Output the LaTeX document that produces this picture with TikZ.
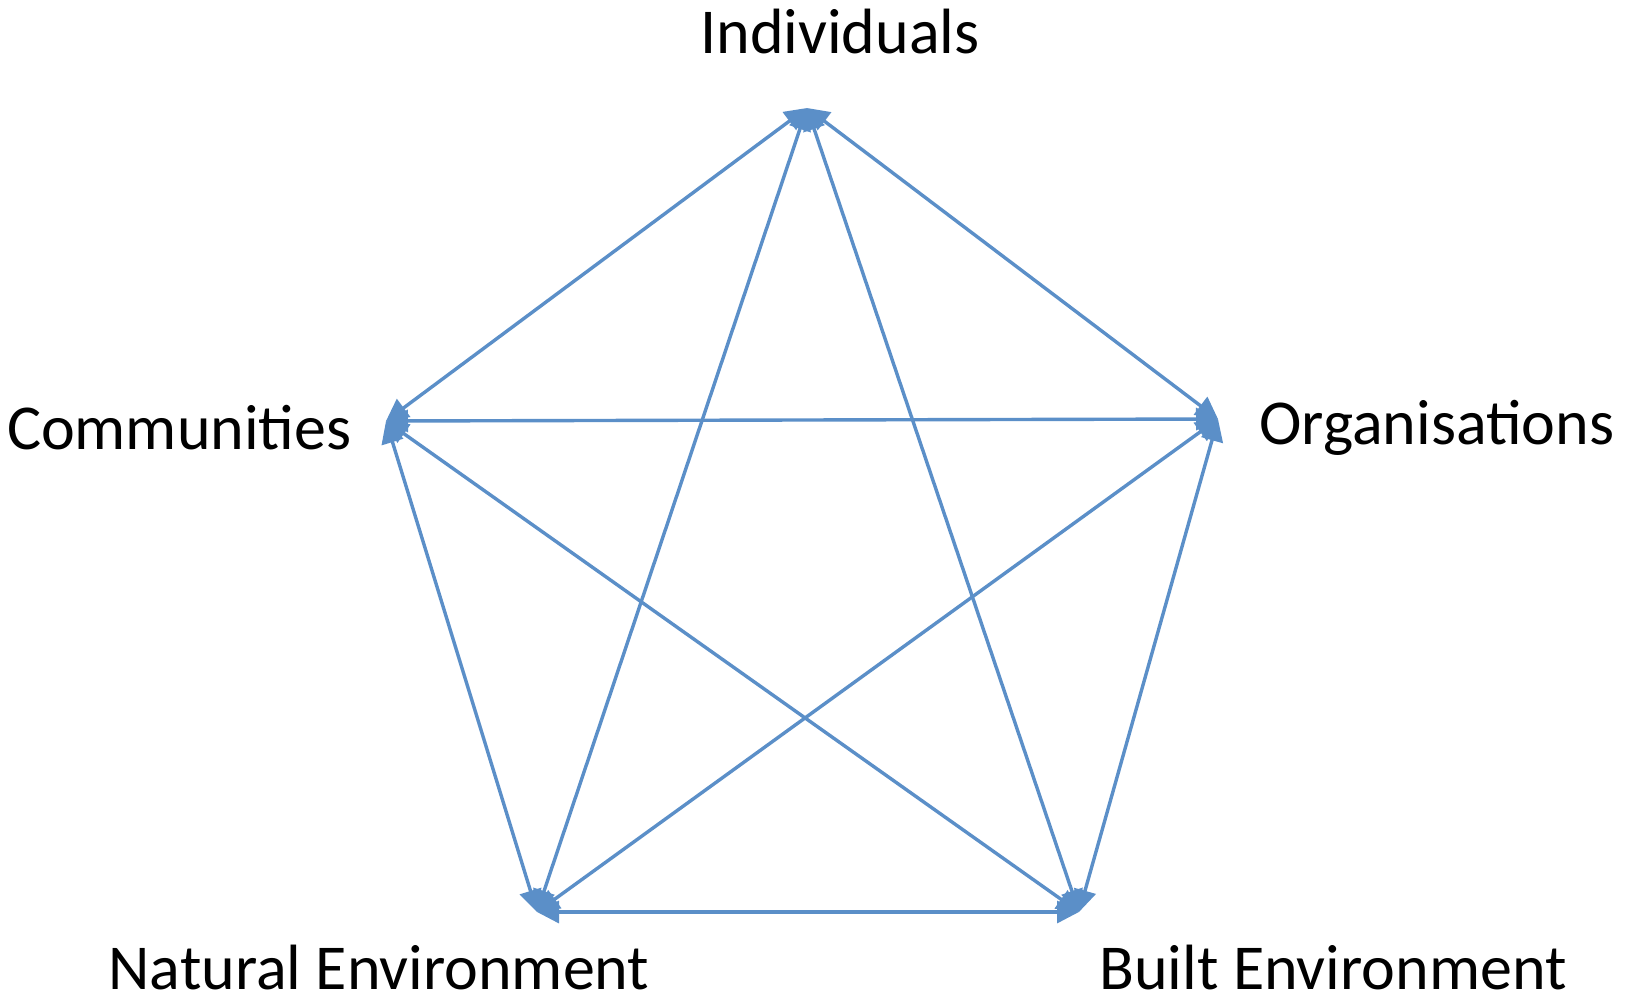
\documentclass[tikz,border=0pt]{standalone}
\usepackage{fontspec}
\setmainfont{Carlito}
\usetikzlibrary{arrows.meta}
\definecolor{edgeblue}{HTML}{5B8FC8}
\tikzset{
  link/.style={draw=edgeblue, line width=1.7pt, {Triangle[length=11pt,width=11pt]}-{Triangle[length=11pt,width=11pt]}},
  lbl/.style={inner sep=0pt, font=\fontsize{32pt}{38pt}\selectfont, text=black}
}
\begin{document}
\begin{tikzpicture}[x=0.5pt,y=-0.5pt]
\useasboundingbox (0,0) rectangle (1634,995);
\coordinate (I) at (807,108);
\coordinate (O) at (1218,419);
\coordinate (B) at (1079,912);
\coordinate (N) at (537,912);
\coordinate (C) at (386,421);
\node[lbl] (lI) at (840,32) {Individuals};
\node[lbl, anchor=west] (lO) at (1259,428) {Organisations};
\node[lbl, anchor=east] (lC) at (352,428) {Communities};
\node[lbl] (lN) at (379,968) {Natural Environment};
\node[lbl] (lB) at (1333,968) {Built Environment};
\draw[link] (I) -- (O);
\draw[link] (I) -- (C);
\draw[link] (I) -- (N);
\draw[link] (I) -- (B);
\draw[link] (C) -- (O);
\draw[link] (O) -- (N);
\draw[link] (O) -- (B);
\draw[link] (C) -- (N);
\draw[link] (C) -- (B);
\draw[link] (N) -- (B);
\end{tikzpicture}
\end{document}
